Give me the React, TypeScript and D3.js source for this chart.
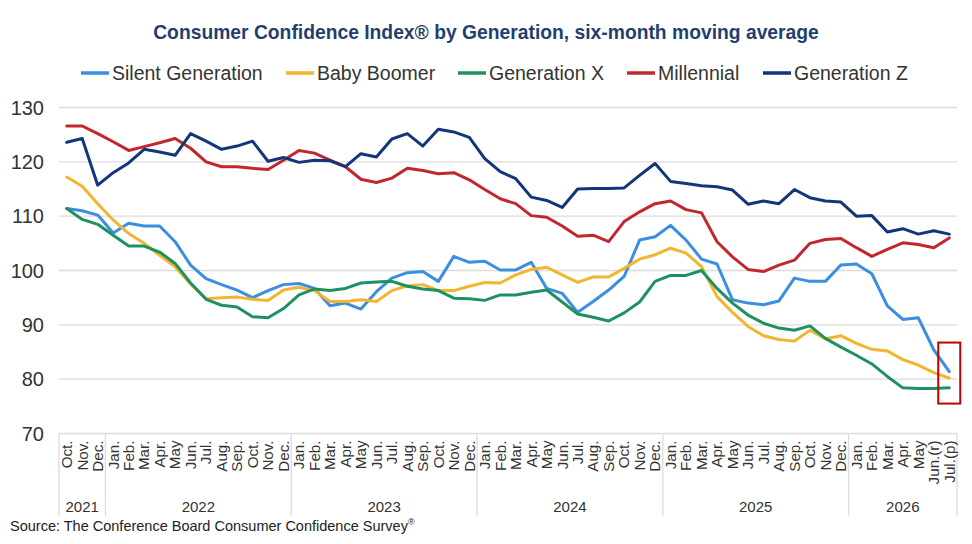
import * as d3 from 'd3'

const MONTHS = ['Jan.', 'Feb.', 'Mar.', 'Apr.', 'May', 'Jun.', 'Jul.', 'Aug.', 'Sep.', 'Oct.', 'Nov.', 'Dec.']

const yearLabels = ['2021', '2022', '2023', '2024', '2025', '2026']
const yearMonthCounts = [3, 12, 12, 12, 12, 7]

const monthLabels: string[] = [
  'Oct.', 'Nov.', 'Dec.',
  ...MONTHS, ...MONTHS, ...MONTHS, ...MONTHS,
  'Jan.', 'Feb.', 'Mar.', 'Apr.', 'May', 'Jun.(r)', 'Jul.(p)',
]

const silent = [
  111.4, 111.0, 110.2, 106.9, 108.7, 108.2, 108.2, 105.3, 101.0, 98.5,
  97.4, 96.4, 95.0, 96.3, 97.4, 97.6, 96.7, 93.5, 94.0, 92.9,
  96.1, 98.6, 99.6, 99.8, 98.0, 102.6, 101.5, 101.7, 100.1, 100.1,
  101.5, 96.7, 95.8, 92.3, 94.3, 96.4, 98.9, 105.6, 106.2, 108.3,
  105.6, 102.1, 101.2, 94.6, 94.0, 93.7, 94.4, 98.6, 98.0, 98.0,
  101.0, 101.2, 99.4, 93.5, 91.0, 91.3, 85.4, 81.4,
]

const boomer = [
  117.2, 115.5, 112.3, 109.3, 106.8, 105.0, 102.8, 100.7, 97.5, 94.8,
  95.0, 95.1, 94.7, 94.5, 96.4, 96.9, 96.3, 94.3, 94.3, 94.6,
  94.3, 96.3, 97.2, 97.4, 96.3, 96.3, 97.1, 97.8, 97.7, 99.2,
  100.2, 100.6, 99.2, 97.8, 98.8, 98.8, 100.4, 102.1, 102.9, 104.1,
  103.2, 100.7, 95.2, 92.3, 89.7, 88.0, 87.3, 87.0, 89.0, 87.4,
  88.0, 86.6, 85.5, 85.2, 83.6, 82.6, 81.2, 80.2,
]

const genX = [
  111.4, 109.4, 108.5, 106.5, 104.5, 104.5, 103.4, 101.3, 97.7, 94.7,
  93.6, 93.3, 91.5, 91.3, 93.0, 95.5, 96.6, 96.3, 96.7, 97.7,
  97.9, 98.0, 97.1, 96.6, 96.3, 94.9, 94.8, 94.5, 95.5, 95.5,
  96.0, 96.4, 94.2, 92.0, 91.4, 90.7, 92.2, 94.2, 98.0, 99.1,
  99.1, 100.0, 96.7, 94.0, 91.8, 90.3, 89.4, 89.0, 89.8, 87.5,
  85.9, 84.4, 82.8, 80.5, 78.4, 78.3, 78.3, 78.4,
]

const millennial = [
  126.6, 126.6, 125.2, 123.7, 122.1, 122.8, 123.5, 124.3, 122.5, 120.0,
  119.1, 119.1, 118.8, 118.6, 120.3, 122.1, 121.6, 120.3, 119.1, 116.8,
  116.2, 117.0, 118.8, 118.4, 117.8, 118.0, 116.7, 114.9, 113.2, 112.3,
  110.1, 109.8, 108.2, 106.3, 106.5, 105.3, 109.0, 110.8, 112.3, 112.8,
  111.2, 110.6, 105.3, 102.5, 100.2, 99.8, 101.0, 101.9, 105.0, 105.7,
  105.9, 104.2, 102.6, 103.9, 105.1, 104.8, 104.2, 106.0,
]

const genZ = [
  123.6, 124.3, 115.7, 118.0, 119.8, 122.3, 121.8, 121.2, 125.2, 123.8,
  122.3, 122.9, 123.8, 120.1, 120.8, 119.9, 120.3, 120.2, 119.1, 121.5,
  120.9, 124.2, 125.2, 122.9, 126.0, 125.5, 124.5, 120.6, 118.2, 116.9,
  113.5, 112.9, 111.6, 115.0, 115.1, 115.1, 115.2, 117.5, 119.7, 116.4,
  116.0, 115.6, 115.4, 114.8, 112.2, 112.8, 112.3, 114.9, 113.4, 112.8,
  112.6, 110.0, 110.1, 107.1, 107.7, 106.7, 107.3, 106.7,
]

const yTicks = [70, 80, 90, 100, 110, 120, 130]

const series = [
  { name: 'Silent Generation', values: silent, color: '#3b8ee2' },
  { name: 'Baby Boomer', values: boomer, color: '#f2b530' },
  { name: 'Generation X', values: genX, color: '#1e9160' },
  { name: 'Millennial', values: millennial, color: '#c1272d' },
  { name: 'Generation Z', values: genZ, color: '#13357a' },
]

// legend item left edges
const legendX = [81, 286, 458, 627, 763]

const W = 972
const H = 544
const FONT = "'Liberation Sans', Arial, sans-serif"

export default function App() {
  const x = d3
    .scaleBand<number>()
    .domain(d3.range(monthLabels.length))
    .range([59, 957])
    .padding(0)
  const y = d3.scaleLinear().domain([70, 130]).range([433.5, 107.5])
  const cx = (i: number) => (x(i) ?? 0) + x.bandwidth() / 2

  const line = d3
    .line<number>()
    .x((_d: number, i: number) => cx(i))
    .y((d: number) => y(d))

  // year group boundaries in band index units
  const bounds = [0, ...d3.cumsum(yearMonthCounts)]
  const bandEdge = (i: number) => (i >= monthLabels.length ? x.range()[1] : x(i) ?? 0)

  const last = monthLabels.length - 1
  const lastVals = series.map((s) => s.values[last])
  const boxTop = y(d3.max(lastVals.filter((v) => v < 90)) ?? 81) - 29

  return (
    <svg
      width={W}
      height={H}
      style={{ position: 'absolute', left: 0, top: 0, background: '#fff' }}
      fontFamily={FONT}
    >
      <text x={W / 2} y={39} textAnchor="middle" fontSize={19.3} fontWeight="bold" fill="#1f3f6f">
        Consumer Confidence Index® by Generation, six-month moving average
      </text>

      {series.map((s, i) => (
        <g key={s.name} transform={`translate(${legendX[i]},73)`}>
          <line x1={0} x2={28} y1={0} y2={0} stroke={s.color} strokeWidth={3.5} />
          <text x={31} y={0} dy="0.35em" fontSize={19.5} fill="#333">
            {s.name}
          </text>
        </g>
      ))}

      {yTicks.map((t) => (
        <g key={t}>
          <line x1={59} x2={957} y1={y(t)} y2={y(t)} stroke="#dcdcdc" strokeWidth={1.3} />
          <text x={44} y={y(t)} dy="0.35em" textAnchor="end" fontSize={20} fill="#333">
            {t}
          </text>
        </g>
      ))}

      {bounds.map((b, i) => (
        <line
          key={`b${i}`}
          x1={bandEdge(b)}
          x2={bandEdge(b)}
          y1={y(70)}
          y2={516}
          stroke="#dcdcdc"
          strokeWidth={1.3}
        />
      ))}

      {monthLabels.map((m, i) => (
        <text
          key={`m${i}`}
          transform={`translate(${cx(i)},${y(70) + 7}) rotate(-90)`}
          textAnchor="end"
          dy="0.35em"
          fontSize={15.2}
          fill="#333"
        >
          {m}
        </text>
      ))}

      {yearLabels.map((yl, i) => (
        <text
          key={yl}
          x={(bandEdge(bounds[i]) + bandEdge(bounds[i + 1])) / 2}
          y={512}
          textAnchor="middle"
          fontSize={15}
          fill="#333"
        >
          {yl}
        </text>
      ))}

      {series.map((s) => (
        <path
          key={s.name}
          d={line(s.values) ?? ''}
          fill="none"
          stroke={s.color}
          strokeWidth={3}
          strokeLinejoin="round"
          strokeLinecap="round"
        />
      ))}

      <rect
        x={cx(last) - 11}
        y={boxTop}
        width={22}
        height={61}
        fill="none"
        stroke="#c00000"
        strokeWidth={2}
      />

      <text x={10} y={531} fontSize={14.5} fill="#222">
        Source: The Conference Board Consumer Confidence Survey
        <tspan fontSize={9} dy={-6}>
          ®
        </tspan>
      </text>
    </svg>
  )
}
